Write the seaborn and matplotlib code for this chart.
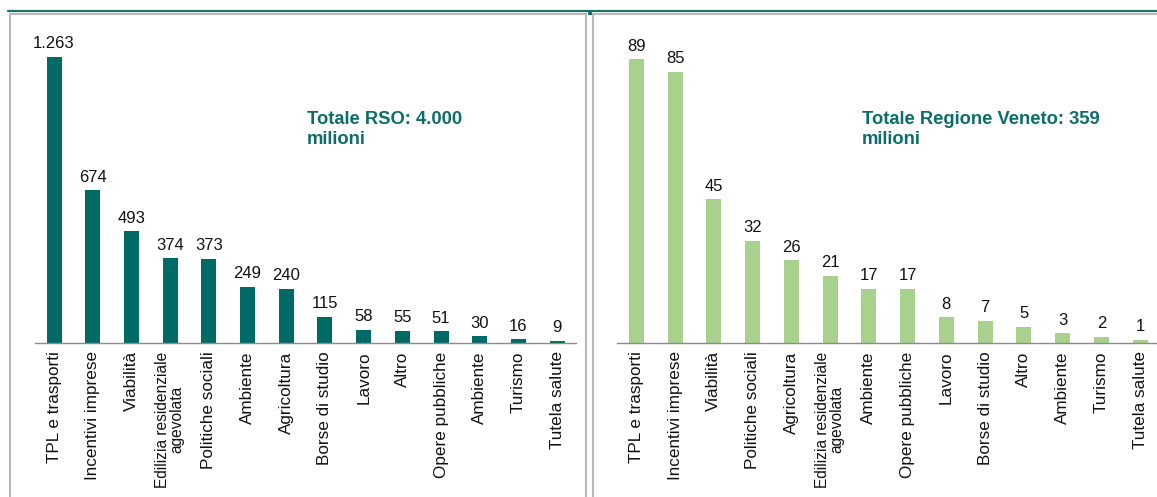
import matplotlib
matplotlib.use("Agg")
import matplotlib.pyplot as plt
import seaborn as sns
import pandas as pd
from matplotlib.patches import Rectangle
from matplotlib.lines import Line2D

# ---- data ----
rso_categories = ["TPL e trasporti", "Incentivi imprese", "Viabilità",
                  "Edilizia residenziale\nagevolata", "Politiche sociali", "Ambiente",
                  "Agricoltura", "Borse di studio", "Lavoro", "Altro",
                  "Opere pubbliche", "Ambiente", "Turismo", "Tutela salute"]
rso_values = [1263, 674, 493, 374, 373, 249, 240, 115, 58, 55, 51, 30, 16, 9]
rso_labels = ["1.263", "674", "493", "374", "373", "249", "240", "115", "58", "55",
              "51", "30", "16", "9"]

veneto_categories = ["TPL e trasporti", "Incentivi imprese", "Viabilità",
                     "Politiche sociali", "Agricoltura", "Edilizia residenziale\nagevolata",
                     "Ambiente", "Opere pubbliche", "Lavoro", "Borse di studio", "Altro",
                     "Ambiente", "Turismo", "Tutela salute"]
veneto_values = [89, 85, 45, 32, 26, 21, 17, 17, 8, 7, 5, 3, 2, 1]
veneto_labels = [str(v) for v in veneto_values]

rso_note = "Totale RSO: 4.000\nmilioni"
veneto_note = "Totale Regione Veneto: 359\nmilioni"

TEAL = "#006B66"
GREEN = "#A9D18E"
NOTE = "#0B6D69"

sns.set_theme(style="white")
plt.rcParams["font.family"] = ["Liberation Sans", "DejaVu Sans"]

W, H = 1157, 497
fig = plt.figure(figsize=(W / 100, H / 100), dpi=100)


def px_axes(x0, y0, x1, y1):
    return fig.add_axes([x0 / W, 1 - y1 / H, (x1 - x0) / W, (y1 - y0) / H])


# frame decorations
fig.add_artist(Line2D([8 / W, 1], [1 - 11 / H, 1 - 11 / H], color="#1F6F6B", lw=1.6,
                      transform=fig.transFigure))
fig.add_artist(Rectangle((10 / W, -0.05), (586 - 10) / W, (1 - 13.5 / H) + 0.05,
                         transform=fig.transFigure, fill=False, ec="#B8B8B8", lw=1.5))
fig.add_artist(Rectangle((593 / W, -0.05), (1170 - 593) / W, (1 - 13.5 / H) + 0.05,
                         transform=fig.transFigure, fill=False, ec="#B8B8B8", lw=1.5))
fig.add_artist(Rectangle((587.5 / W, 1 - 14.5 / H), 4.5 / W, 4 / H,
                         transform=fig.transFigure, color="#1F6F6B", lw=0))


def panel(ax, cats, vals, labels, color, ymax, note, note_xy):
    df = pd.DataFrame({"pos": list(range(len(vals))), "val": vals})
    sns.barplot(data=df, x="pos", y="val", color=color, width=0.39,
                saturation=1, ax=ax, edgecolor="none")
    ax.set_xlim(-0.5, len(vals) - 0.5)
    ax.set_ylim(0, ymax)
    ax.bar_label(ax.containers[0], labels=labels, padding=4, fontsize=12,
                 color="#111111")
    ax.set_xticks(range(len(cats)))
    ax.set_xticklabels(cats, rotation=90, fontsize=12.3, color="#111111",
                       multialignment="center", linespacing=0.95)
    for t in ax.get_xticklabels():
        if "\n" in t.get_text():
            t.set_fontsize(11.2)
    ax.tick_params(axis="x", length=0, pad=6)
    ax.set_yticks([])
    ax.set_xlabel("")
    ax.set_ylabel("")
    for s in ["top", "right", "left"]:
        ax.spines[s].set_visible(False)
    ax.spines["bottom"].set_color("#8C8C8C")
    ax.spines["bottom"].set_linewidth(1.0)
    ax.patch.set_alpha(0)
    fig.text(note_xy[0] / W, 1 - note_xy[1] / H, note, fontsize=13.2,
             fontweight="bold", color=NOTE, ha="left", va="top", linespacing=1.25)


ax1 = px_axes(34.7, 20, 576.5, 343)
panel(ax1, rso_categories, rso_values, rso_labels, TEAL, 323 / 0.2265, rso_note, (307, 111))

ax2 = px_axes(617, 20, 1159.5, 343)
panel(ax2, veneto_categories, veneto_values, veneto_labels, GREEN, 323 / 3.19,
      veneto_note, (862, 111))

fig.savefig("out.png", dpi=100)
